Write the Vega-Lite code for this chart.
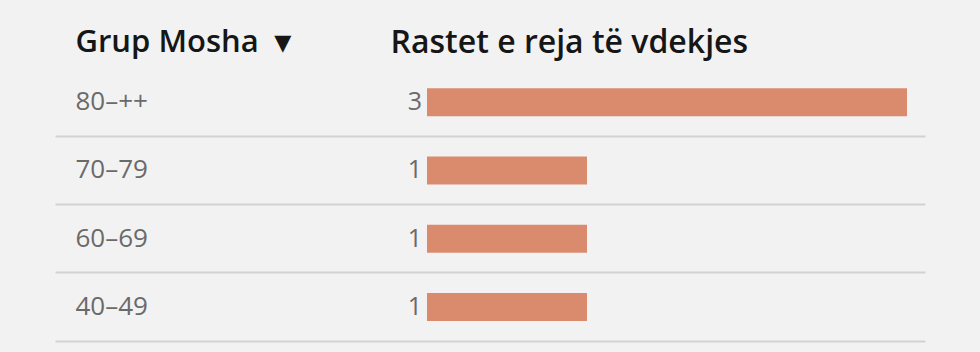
{
  "$schema": "https://vega.github.io/schema/vega-lite/v6.json",
  "width": 870,
  "height": 273,
  "autosize": {"type": "none"},
  "padding": {"left": 55, "top": 68, "right": 55, "bottom": 11},
  "background": "#f2f2f2",
  "config": {"view": {"stroke": null}, "font": "Open Sans"},
  "data": {"values": [
    {"grup": "80–++", "value": 3},
    {"grup": "70–79", "value": 1},
    {"grup": "60–69", "value": 1},
    {"grup": "40–49", "value": 1}
  ]},
  "encoding": {
    "y": {
      "field": "grup", "type": "nominal", "sort": null,
      "scale": {"paddingInner": 0, "paddingOuter": 0},
      "axis": {
        "title": "Grup Mosha\u00a0\u00a0\u25be",
        "titleAngle": 0, "titleX": 20, "titleY": -26,
        "titleAlign": "left", "titleBaseline": "middle",
        "titleFontSize": 31, "titleFontWeight": 600, "titleColor": "#161616",
        "labelAlign": "left", "labelPadding": -20, "labelBaseline": "middle",
        "labelFontSize": 26, "labelColor": "#6a6a6a",
        "ticks": false, "tickSize": 0, "domain": false,
        "grid": true, "bandPosition": 1, "gridColor": "#d2d2d2", "gridWidth": 2
      }
    }
  },
  "layer": [
    {
      "mark": {"type": "bar", "height": 28, "color": "#da8b6d"},
      "encoding": {
        "x": {
          "field": "value", "type": "quantitative",
          "scale": {"domain": [-2.325, 3.1125], "nice": false, "zero": false},
          "axis": {
            "orient": "top", "title": "Rastet e reja të vdekjes",
            "titleX": 335, "titleY": -26, "titleAlign": "left", "titleBaseline": "middle",
            "titleFontSize": 32, "titleFontWeight": 600, "titleColor": "#161616",
            "labels": false, "ticks": false, "domain": false, "grid": false
          }
        }
      }
    },
    {
      "mark": {"type": "text", "align": "right", "baseline": "middle", "dx": -5, "fontSize": 25, "color": "#6a6a6a"},
      "encoding": {
        "x": {"datum": 0, "type": "quantitative"},
        "text": {"field": "value", "type": "quantitative"}
      }
    }
  ]
}
